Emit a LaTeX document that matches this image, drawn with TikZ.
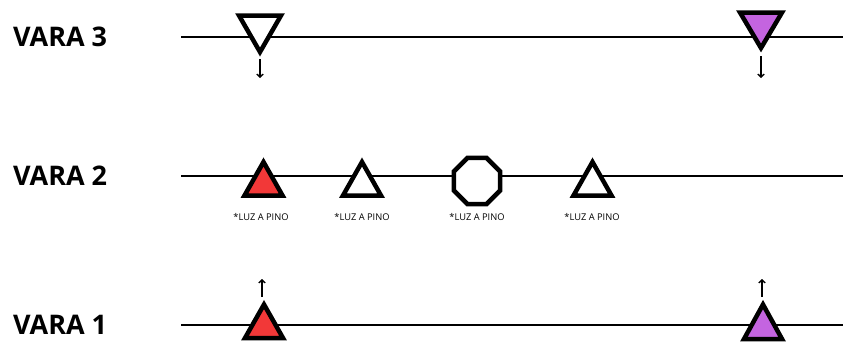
\documentclass[tikz,border=0pt]{standalone}
\usepackage{fontspec}
\setmainfont{Open Sans}
\usetikzlibrary{arrows.meta,shapes.geometric}
\definecolor{lred}{RGB}{242,56,56}
\definecolor{lpurple}{RGB}{196,100,224}
\tikzset{
  vara/.style={font=\fontsize{27}{27}\selectfont\bfseries, inner sep=0pt, anchor=west},
  rail/.style={line width=2pt, black},
  lamp/.style={line width=4.5pt, line join=miter, miter limit=10, draw=black},
  luz/.style={font=\fontsize{9.3}{10}\selectfont, inner sep=0pt},
  dirarrow/.style={line width=1.4pt, -{Straight Barb[length=3pt,width=6.5pt,line width=1.4pt]}},
}
\begin{document}
\begin{tikzpicture}[x=1pt,y=-1pt]
\useasboundingbox (0,0) rectangle (843,343);
% labels
\node[vara] (v3) at (13,37) {VARA 3};
\node[vara] (v2) at (13,176) {VARA 2};
\node[vara] (v1) at (13,325) {VARA 1};
% rails
\coordinate (r3a) at (181,37); \coordinate (r3b) at (843,37);
\coordinate (r2a) at (181,176); \coordinate (r2b) at (843,176);
\coordinate (r1a) at (181,325); \coordinate (r1b) at (843,325);
\draw[rail] (r3a) -- (r3b);
\draw[rail] (r2a) -- (r2b);
\draw[rail] (r1a) -- (r1b);
% VARA 3
\draw[lamp, fill=white] (239,15.5) -- (281,15.5) -- (260,52) -- cycle;
\coordinate (t3a) at (260,59); \coordinate (e3a) at (260,78);
\draw[dirarrow] (t3a) -- (e3a);
\draw[lamp, fill=lpurple] (740,12.5) -- (782,12.5) -- (761,48) -- cycle;
\coordinate (t3b) at (761,56); \coordinate (e3b) at (761,78);
\draw[dirarrow] (t3b) -- (e3b);
% VARA 2
\draw[lamp, fill=lred] (244.5,195.5) -- (282.5,195.5) -- (263.5,162) -- cycle;
\draw[lamp, fill=white] (343,195.5) -- (381,195.5) -- (362,162) -- cycle;
\draw[lamp, fill=white] (573.5,195.5) -- (611.5,195.5) -- (592.5,162) -- cycle;
\node[regular polygon, regular polygon sides=8, draw, line width=4.5pt, fill=white, minimum size=50pt, inner sep=0pt] (oct) at (477,181) {};
\node[luz] (l1) at (261,217) {*LUZ A PINO};
\node[luz] (l2) at (362,217) {*LUZ A PINO};
\node[luz] (l3) at (477,217) {*LUZ A PINO};
\node[luz] (l4) at (592,217) {*LUZ A PINO};
% VARA 1
\draw[lamp, fill=lred] (245,338) -- (283,338) -- (264,304.5) -- cycle;
\coordinate (t1a) at (262,297); \coordinate (e1a) at (262,279);
\draw[dirarrow] (t1a) -- (e1a);
\draw[lamp, fill=lpurple] (744,339) -- (782,339) -- (763,304.5) -- cycle;
\coordinate (t1b) at (762,297); \coordinate (e1b) at (762,279);
\draw[dirarrow] (t1b) -- (e1b);
\end{tikzpicture}
\end{document}
